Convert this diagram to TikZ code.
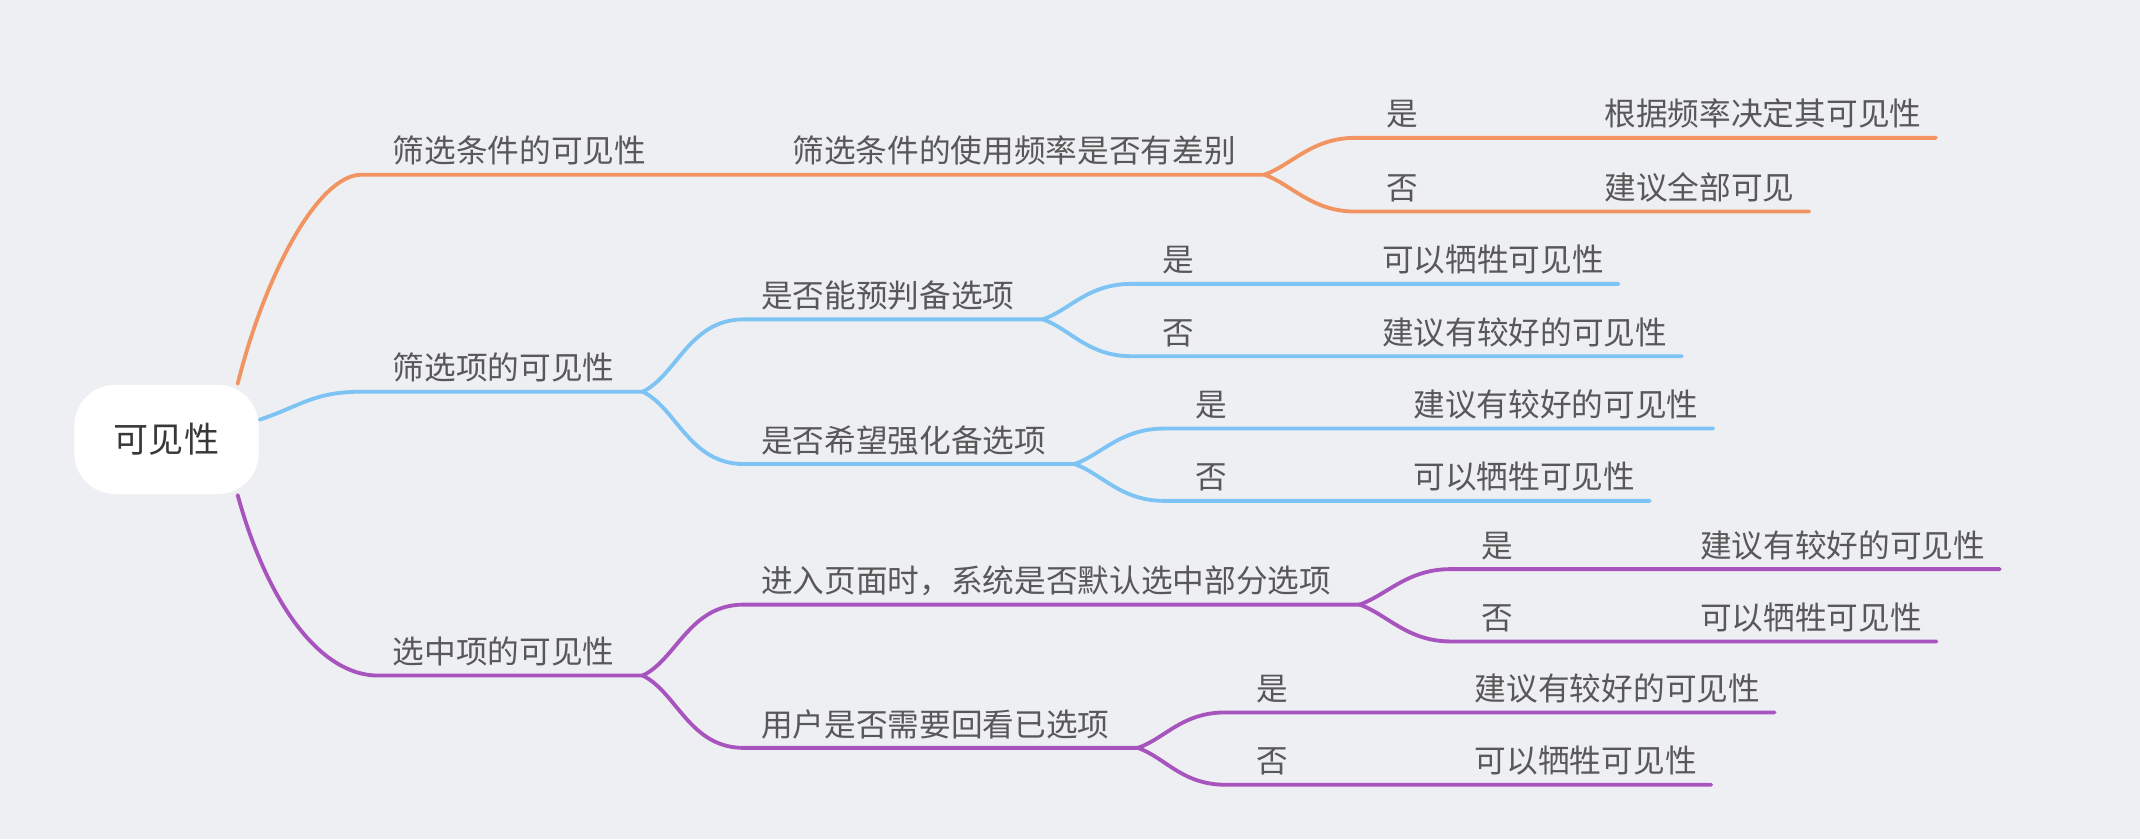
\documentclass[tikz,border=0pt]{standalone}
\usepackage{fontspec}
\newfontfamily\cjk{Noto Sans CJK SC}
\usetikzlibrary{calc}
\definecolor{bgcol}{RGB}{238,239,242}
\definecolor{txtcol}{RGB}{88,88,88}
\definecolor{orangecol}{RGB}{242,148,97}
\definecolor{bluecol}{RGB}{125,196,245}
\definecolor{purplecol}{RGB}{168,84,190}
\tikzset{
  topic/.style={anchor=south west, inner sep=0pt, text depth=0.08cm, text=txtcol, font=\cjk\fontsize{6.6pt}{8pt}\selectfont},
  rootbox/.style={fill=white, rounded corners=0.3cm, minimum width=1.35cm, minimum height=0.8cm, text=black!78, font=\cjk\fontsize{7.3pt}{9pt}\selectfont},
  branchline/.style={line width=0.8pt, line cap=round},
}

\begin{document}
\begin{tikzpicture}[x=0.01cm,y=-0.01cm]

\fill[bgcol] (0,0) rectangle (1568,615);
\useasboundingbox (0,0) rectangle (1568,615);

\node[rootbox] (root) at (122,322) {可见性};

\node[topic] (c1) at (287,128) {筛选条件的可见性};
\node[topic] (c2) at (287,287) {筛选项的可见性};
\node[topic] (c3) at (287,495) {选中项的可见性};

\node[topic] (c11) at (580,128) {筛选条件的使用频率是否有差别};
\node[topic] (c21) at (557,234) {是否能预判备选项};
\node[topic] (c22) at (557,340) {是否希望强化备选项};
\node[topic] (c31) at (557,443) {进入页面时，系统是否默认选中部分选项};
\node[topic] (c32) at (557,548) {用户是否需要回看已选项};

% yes / no leaves
\node[topic] (yes11) at (1015,101) {是};
\node[topic] (res11y) at (1175,101) {根据频率决定其可见性};
\node[topic] (no11) at (1015,155) {否};
\node[topic] (res11n) at (1175,155) {建议全部可见};
\node[topic] (yes21) at (851,208) {是};
\node[topic] (res21y) at (1012,208) {可以牺牲可见性};
\node[topic] (no21) at (851,261) {否};
\node[topic] (res21n) at (1012,261) {建议有较好的可见性};
\node[topic] (yes22) at (875,314) {是};
\node[topic] (res22y) at (1035,314) {建议有较好的可见性};
\node[topic] (no22) at (875,367) {否};
\node[topic] (res22n) at (1035,367) {可以牺牲可见性};
\node[topic] (yes31) at (1085,417) {是};
\node[topic] (res31y) at (1245,417) {建议有较好的可见性};
\node[topic] (no31) at (1085,470) {否};
\node[topic] (res31n) at (1245,470) {可以牺牲可见性};
\node[topic] (yes32) at (920,522) {是};
\node[topic] (res32y) at (1080,522) {建议有较好的可见性};
\node[topic] (no32) at (920,575) {否};
\node[topic] (res32n) at (1080,575) {可以牺牲可见性};

\coordinate (f1) at ([xshift=0.2cm]c1.south east);
\coordinate (f2) at ([xshift=0.2cm]c2.south east);
\coordinate (f3) at ([xshift=0.2cm]c3.south east);
\coordinate (f11) at ([xshift=0.2cm]c11.south east);
\coordinate (f21) at ([xshift=0.2cm]c21.south east);
\coordinate (f22) at ([xshift=0.2cm]c22.south east);
\coordinate (f31) at ([xshift=0.2cm]c31.south east);
\coordinate (f32) at ([xshift=0.2cm]c32.south east);

% orange
\draw[branchline,orangecol] (root.38) .. controls +(20,-80) and +(-32,0) .. ([xshift=-0.22cm]c1.south west) -- (f1) -- (c11.south west) -- (f11);
\draw[branchline,orangecol] (f11) .. controls +(20,-7) and +(-32,0) .. ([xshift=-0.22cm]yes11.south west) -- ([xshift=0.1cm]res11y.south east);
\draw[branchline,orangecol] (f11) .. controls +(20,7) and +(-32,0) .. ([xshift=-0.22cm]no11.south west) -- ([xshift=0.1cm]res11n.south east);

% blue
\draw[branchline,bluecol] (root.12) .. controls +(30,-10) and +(-35,0) .. ([xshift=-0.22cm]c2.south west) -- (f2);
\draw[branchline,bluecol] (f2) .. controls +(25,-12) and +(-40,0) .. ([xshift=-0.12cm]c21.south west) -- (f21);
\draw[branchline,bluecol] (f2) .. controls +(25,12) and +(-40,0) .. ([xshift=-0.12cm]c22.south west) -- (f22);
\draw[branchline,bluecol] (f21) .. controls +(20,-7) and +(-32,0) .. ([xshift=-0.22cm]yes21.south west) -- ([xshift=0.1cm]res21y.south east);
\draw[branchline,bluecol] (f21) .. controls +(20,7) and +(-32,0) .. ([xshift=-0.22cm]no21.south west) -- ([xshift=0.1cm]res21n.south east);
\draw[branchline,bluecol] (f22) .. controls +(20,-7) and +(-32,0) .. ([xshift=-0.22cm]yes22.south west) -- ([xshift=0.1cm]res22y.south east);
\draw[branchline,bluecol] (f22) .. controls +(20,7) and +(-32,0) .. ([xshift=-0.22cm]no22.south west) -- ([xshift=0.1cm]res22n.south east);

% purple
\draw[branchline,purplecol] (root.-38) .. controls +(22,80) and +(-42,0) .. ([xshift=-0.1cm]c3.south west) -- (f3);
\draw[branchline,purplecol] (f3) .. controls +(25,-12) and +(-40,0) .. ([xshift=-0.12cm]c31.south west) -- (f31);
\draw[branchline,purplecol] (f3) .. controls +(25,12) and +(-40,0) .. ([xshift=-0.12cm]c32.south west) -- (f32);
\draw[branchline,purplecol] (f31) .. controls +(20,-7) and +(-32,0) .. ([xshift=-0.22cm]yes31.south west) -- ([xshift=0.1cm]res31y.south east);
\draw[branchline,purplecol] (f31) .. controls +(20,7) and +(-32,0) .. ([xshift=-0.22cm]no31.south west) -- ([xshift=0.1cm]res31n.south east);
\draw[branchline,purplecol] (f32) .. controls +(20,-7) and +(-32,0) .. ([xshift=-0.22cm]yes32.south west) -- ([xshift=0.1cm]res32y.south east);
\draw[branchline,purplecol] (f32) .. controls +(20,7) and +(-32,0) .. ([xshift=-0.22cm]no32.south west) -- ([xshift=0.1cm]res32n.south east);

\end{tikzpicture}
\end{document}
